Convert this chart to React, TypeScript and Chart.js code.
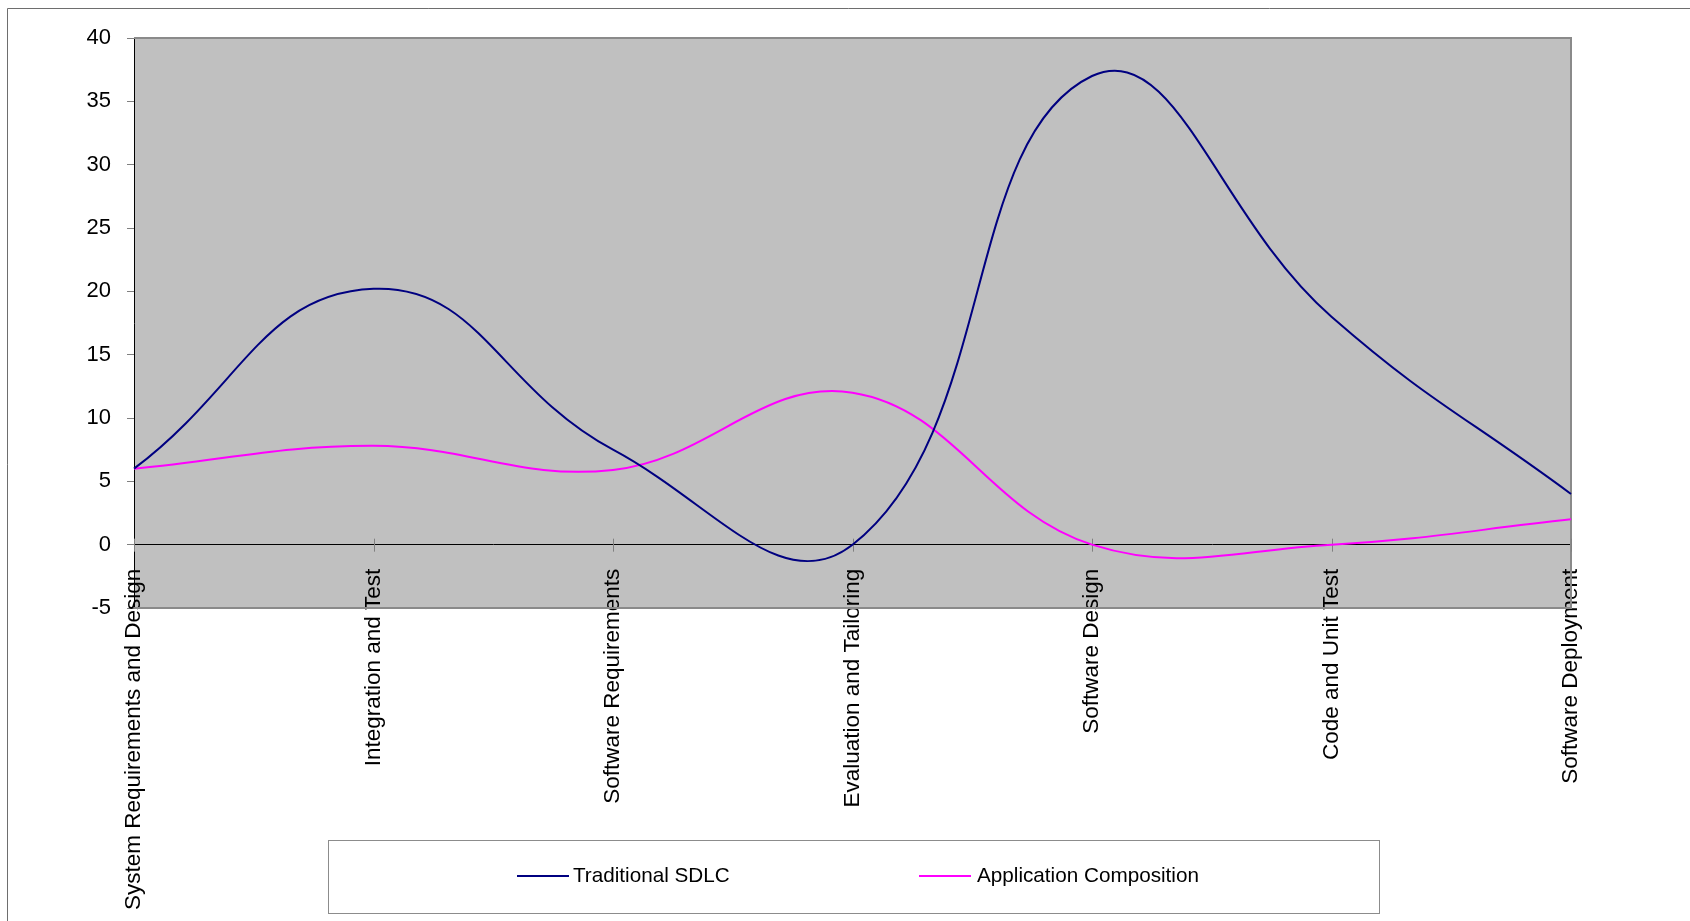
import React, { useEffect, useRef } from "react";
import { Chart, registerables } from "chart.js";

Chart.register(...registerables);

const categories = [
  "System Requirements and Design",
  "Integration and Test",
  "Software Requirements",
  "Evaluation and Tailoring",
  "Software Design",
  "Code and Unit Test",
  "Software Deployment",
];
const traditionalSDLC = [6, 20.2, 7.5, 0, 37, 18, 4];
const applicationComposition = [6, 7.8, 5.9, 12, 0, 0, 2];
const seriesNames = ["Traditional SDLC", "Application Composition"];
const seriesColors = ["#000080", "#FF00FF"];
const yMin = -5;
const yMax = 40;
const yStep = 5;

const FONT = "'Liberation Sans', Arial, sans-serif";

const decorPlugin = {
  id: "decor",
  beforeDraw(chart: any) {
    const { ctx, chartArea: a } = chart;
    ctx.save();
    ctx.fillStyle = "#ffffff";
    ctx.fillRect(0, 0, chart.width, chart.height);
    // outer border
    ctx.strokeStyle = "#6e6e6e";
    ctx.lineWidth = 1;
    ctx.beginPath();
    ctx.moveTo(7.5, chart.height);
    ctx.lineTo(7.5, 8.5);
    ctx.lineTo(chart.width, 8.5);
    ctx.stroke();
    // plot background
    ctx.fillStyle = "#C0C0C0";
    ctx.fillRect(a.left, a.top, a.right - a.left, a.bottom - a.top);
    ctx.restore();
  },
  beforeDatasetsDraw(chart: any) {
    const { ctx, chartArea: a, scales } = chart;
    ctx.save();
    ctx.strokeStyle = "#8a8a8a";
    ctx.lineWidth = 2;
    ctx.beginPath();
    ctx.moveTo(a.left, a.top);
    ctx.lineTo(a.right, a.top);
    ctx.lineTo(a.right, a.bottom);
    ctx.lineTo(a.left, a.bottom);
    ctx.stroke();
    // x-axis cross ticks
    const y0 = scales.y.getPixelForValue(0);
    ctx.strokeStyle = "#808080";
    ctx.lineWidth = 1;
    ctx.beginPath();
    categories.forEach((_, i) => {
      const x = Math.round(scales.x.getPixelForValue(i)) + 0.5;
      ctx.moveTo(x, y0 - 6);
      ctx.lineTo(x, y0 + 7);
    });
    ctx.stroke();
    ctx.restore();
  },
  afterDraw(chart: any) {
    const { ctx } = chart;
    ctx.save();
    // legend box
    ctx.strokeStyle = "#8c8c8c";
    ctx.lineWidth = 1;
    ctx.strokeRect(328.5, 840.5, 1051, 73);
    const cy = 876;
    const items = [
      { x: 517, tx: 573 },
      { x: 919, tx: 977 },
    ];
    ctx.font = "20.7px " + FONT;
    ctx.textBaseline = "middle";
    ctx.textAlign = "left";
    items.forEach((it, i) => {
      ctx.strokeStyle = seriesColors[i];
      ctx.lineWidth = 2;
      ctx.beginPath();
      ctx.moveTo(it.x, cy);
      ctx.lineTo(it.x + 52, cy);
      ctx.stroke();
      ctx.fillStyle = "#000000";
      ctx.fillText(seriesNames[i], it.tx, cy);
    });
    ctx.restore();
  },
};

export default function App() {
  const ref = useRef<HTMLCanvasElement | null>(null);
  useEffect(() => {
    if (!ref.current) return;
    const chart = new Chart(ref.current, {
      type: "line",
      data: {
        labels: categories,
        datasets: [
          {
            label: seriesNames[0],
            data: traditionalSDLC,
            borderColor: seriesColors[0],
            backgroundColor: seriesColors[0],
            borderWidth: 2,
            pointRadius: 0,
            tension: 0.45,
            fill: false,
          },
          {
            label: seriesNames[1],
            data: applicationComposition,
            borderColor: seriesColors[1],
            backgroundColor: seriesColors[1],
            borderWidth: 2,
            pointRadius: 0,
            tension: 0.4,
            fill: false,
          },
        ],
      },
      options: {
        responsive: false,
        animation: false,
        layout: { padding: { left: 74, top: 38, right: 119, bottom: 313 } },
        plugins: {
          legend: { display: false },
          tooltip: { enabled: false },
        },
        scales: {
          x: {
            type: "category",
            position: { y: 0 } as any,
            offset: false,
            grid: { drawOnChartArea: false, drawTicks: false },
            border: { color: "#000000", width: 1 },
            ticks: {
              minRotation: 90,
              maxRotation: 90,
              autoSkip: false,
              padding: 24,
              color: "#000000",
              font: { size: 22.5, family: FONT },
            },
          },
          y: {
            min: yMin,
            max: yMax,
            afterFit: (scale: any) => {
              scale.width = 60;
            },
            grid: {
              drawOnChartArea: false,
              drawTicks: true,
              tickLength: 7,
              tickColor: "#808080",
            },
            border: { color: "#000000", width: 1 },
            ticks: {
              stepSize: yStep,
              padding: 16,
              color: "#000000",
              font: { size: 22, family: FONT },
            },
          },
        },
      },
      plugins: [decorPlugin],
    });
    return () => chart.destroy();
  }, []);
  return (
    <canvas
      ref={ref}
      width={1690}
      height={921}
      style={{ position: "fixed", left: 0, top: 0, width: 1690, height: 921 }}
    />
  );
}
